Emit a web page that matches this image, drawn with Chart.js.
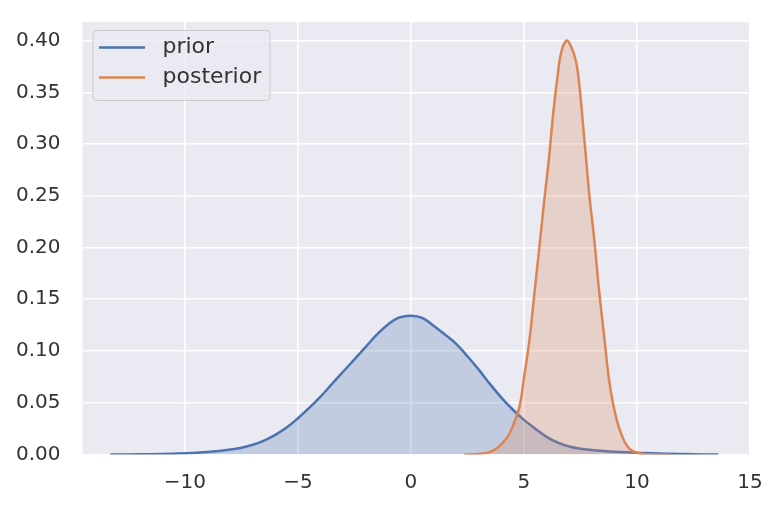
<!DOCTYPE html>
<html>
<head>
<meta charset="utf-8">
<script src="https://cdn.jsdelivr.net/npm/chart.js@4"></script>
<style>
html, body { margin: 0; padding: 0; background: #fff; }
#wrap { width: 782px; height: 508px; }
</style>
</head>
<body>
<div id="wrap"><canvas id="kde"></canvas></div>
<script>
// values
const priorX = [-13.3, -12.5, -11.5, -10.5, -9.5, -8.5, -8.0, -7.5, -7.0, -6.5, -6.0, -5.5, -5.0, -4.5, -4.0, -3.5, -3.0, -2.5, -2.0, -1.5, -1.0, -0.5, 0.0, 0.5, 1.0, 1.5, 2.0, 2.5, 3.0, 3.5, 4.0, 4.5, 5.0, 5.5, 6.0, 6.5, 7.0, 7.5, 8.0, 8.5, 9.0, 10.0, 11.0, 12.0, 13.0, 13.6];
const priorY = [0, 0.0001, 0.0003, 0.0008, 0.0017, 0.0034, 0.0048, 0.0066, 0.0094, 0.0135, 0.019, 0.026, 0.035, 0.045, 0.056, 0.068, 0.080, 0.092, 0.104, 0.116, 0.126, 0.1325, 0.1342, 0.132, 0.1245, 0.116, 0.107, 0.095, 0.082, 0.068, 0.055, 0.0435, 0.0335, 0.025, 0.017, 0.0115, 0.0078, 0.0056, 0.0043, 0.0034, 0.0027, 0.0018, 0.0009, 0.0004, 0.0001, 0];

const posteriorX = [2.36, 3.0, 3.5, 3.8, 4.05, 4.3, 4.5, 4.8, 5.0, 5.25, 5.45, 5.67, 5.9, 6.1, 6.3, 6.5, 6.65, 6.88, 7.07, 7.3, 7.45, 7.6, 7.75, 7.9, 8.1, 8.32, 8.55, 8.76, 9.0, 9.3, 9.65, 10.1, 10.6, 11.49];
const posteriorY = [0, 0.0005, 0.0025, 0.006, 0.011, 0.018, 0.027, 0.046, 0.074, 0.112, 0.153, 0.198, 0.246, 0.285, 0.331, 0.368, 0.389, 0.400, 0.395, 0.380, 0.357, 0.322, 0.285, 0.249, 0.210, 0.159, 0.114, 0.073, 0.043, 0.020, 0.006, 0.0012, 0.0003, 0];

const xTicks = [-10, -5, 0, 5, 10, 15];
const yTicks = [0, 0.05, 0.10, 0.15, 0.20, 0.25, 0.30, 0.35, 0.40];

const toPoints = (xs, ys) => xs.map((x, i) => ({ x: x, y: ys[i] }));

const plotBackground = {
    id: 'plotBackground',
    beforeDraw(chart) {
        const a = chart.chartArea;
        const ctx = chart.ctx;
        ctx.save();
        ctx.fillStyle = '#eaeaf2';
        ctx.fillRect(a.left, a.top, a.right - a.left, a.bottom - a.top);
        ctx.restore();
    }
};

// legend box drawn inside the plot, upper left
const insideLegend = {
    id: 'insideLegend',
    afterDatasetsDraw(chart) {
        const ctx = chart.ctx;
        const a = chart.chartArea;
        const x0 = a.left + 10.5, y0 = a.top + 8.5;
        ctx.save();
        ctx.fillStyle = 'rgba(234,234,242,0.8)';
        ctx.strokeStyle = '#cccccc';
        ctx.lineWidth = 1;
        ctx.beginPath();
        ctx.roundRect(x0, y0, 177, 70, 4);
        ctx.fill();
        ctx.stroke();
        ctx.font = '22px "DejaVu Sans"';
        ctx.textBaseline = 'middle';
        ctx.fillStyle = '#333333';
        chart.data.datasets.forEach((ds, i) => {
            const y = y0 + 17 + i * 30;
            ctx.strokeStyle = ds.borderColor;
            ctx.lineWidth = 2.5;
            ctx.beginPath();
            ctx.moveTo(x0 + 6, y);
            ctx.lineTo(x0 + 52, y);
            ctx.stroke();
            ctx.fillText(ds.label, x0 + 69.5, y);
        });
        ctx.restore();
    }
};

const noEdgePadding = scale => {
    scale.paddingTop = 0;
    scale.paddingBottom = 0;
    scale.paddingLeft = 0;
    scale.paddingRight = 0;
};

const ctx = document.getElementById('kde');
new Chart(ctx, {
    type: 'line',
    data: {
        datasets: [{
            label: 'prior',
            data: toPoints(priorX, priorY),
            borderColor: '#4c72b0',
            backgroundColor: 'rgba(76,114,176,0.25)',
            borderWidth: 2.5,
            fill: 'origin',
            pointRadius: 0,
            tension: 0.4,
            order: 2
        }, {
            label: 'posterior',
            data: toPoints(posteriorX, posteriorY),
            borderColor: '#dd8452',
            backgroundColor: 'rgba(221,132,82,0.25)',
            borderWidth: 2.5,
            fill: 'origin',
            pointRadius: 0,
            tension: 0.4,
            order: 1
        }]
    },
    options: {
        responsive: true,
        maintainAspectRatio: false,
        animation: false,
        layout: {
            padding: { left: 0, right: 32, top: 22, bottom: 0 }
        },
        scales: {
            x: {
                type: 'linear',
                min: -14.53,
                max: 15.0,
                border: { display: false },
                grid: { color: '#ffffff', lineWidth: 1.6, drawTicks: false },
                afterBuildTicks: scale => { scale.ticks = xTicks.map(v => ({ value: v })); },
                afterFit: scale => { scale.height = 53.5; noEdgePadding(scale); },
                ticks: {
                    padding: 16,
                    color: '#333333',
                    font: { family: '"DejaVu Sans"', size: 20 },
                    maxRotation: 0,
                    callback: v => (v < 0 ? '\u2212' + Math.abs(v) : String(v))
                }
            },
            y: {
                min: 0,
                max: 0.418,
                border: { display: false },
                grid: { color: '#ffffff', lineWidth: 1.6, drawTicks: false },
                afterBuildTicks: scale => { scale.ticks = yTicks.map(v => ({ value: v })); },
                afterFit: scale => { scale.width = 82.5; noEdgePadding(scale); },
                ticks: {
                    padding: 22,
                    color: '#333333',
                    font: { family: '"DejaVu Sans"', size: 20 },
                    callback: v => Number(v).toFixed(2)
                }
            }
        },
        plugins: {
            legend: { display: false },
            tooltip: { enabled: false }
        }
    },
    plugins: [plotBackground, insideLegend]
});
</script>
</body>
</html>
